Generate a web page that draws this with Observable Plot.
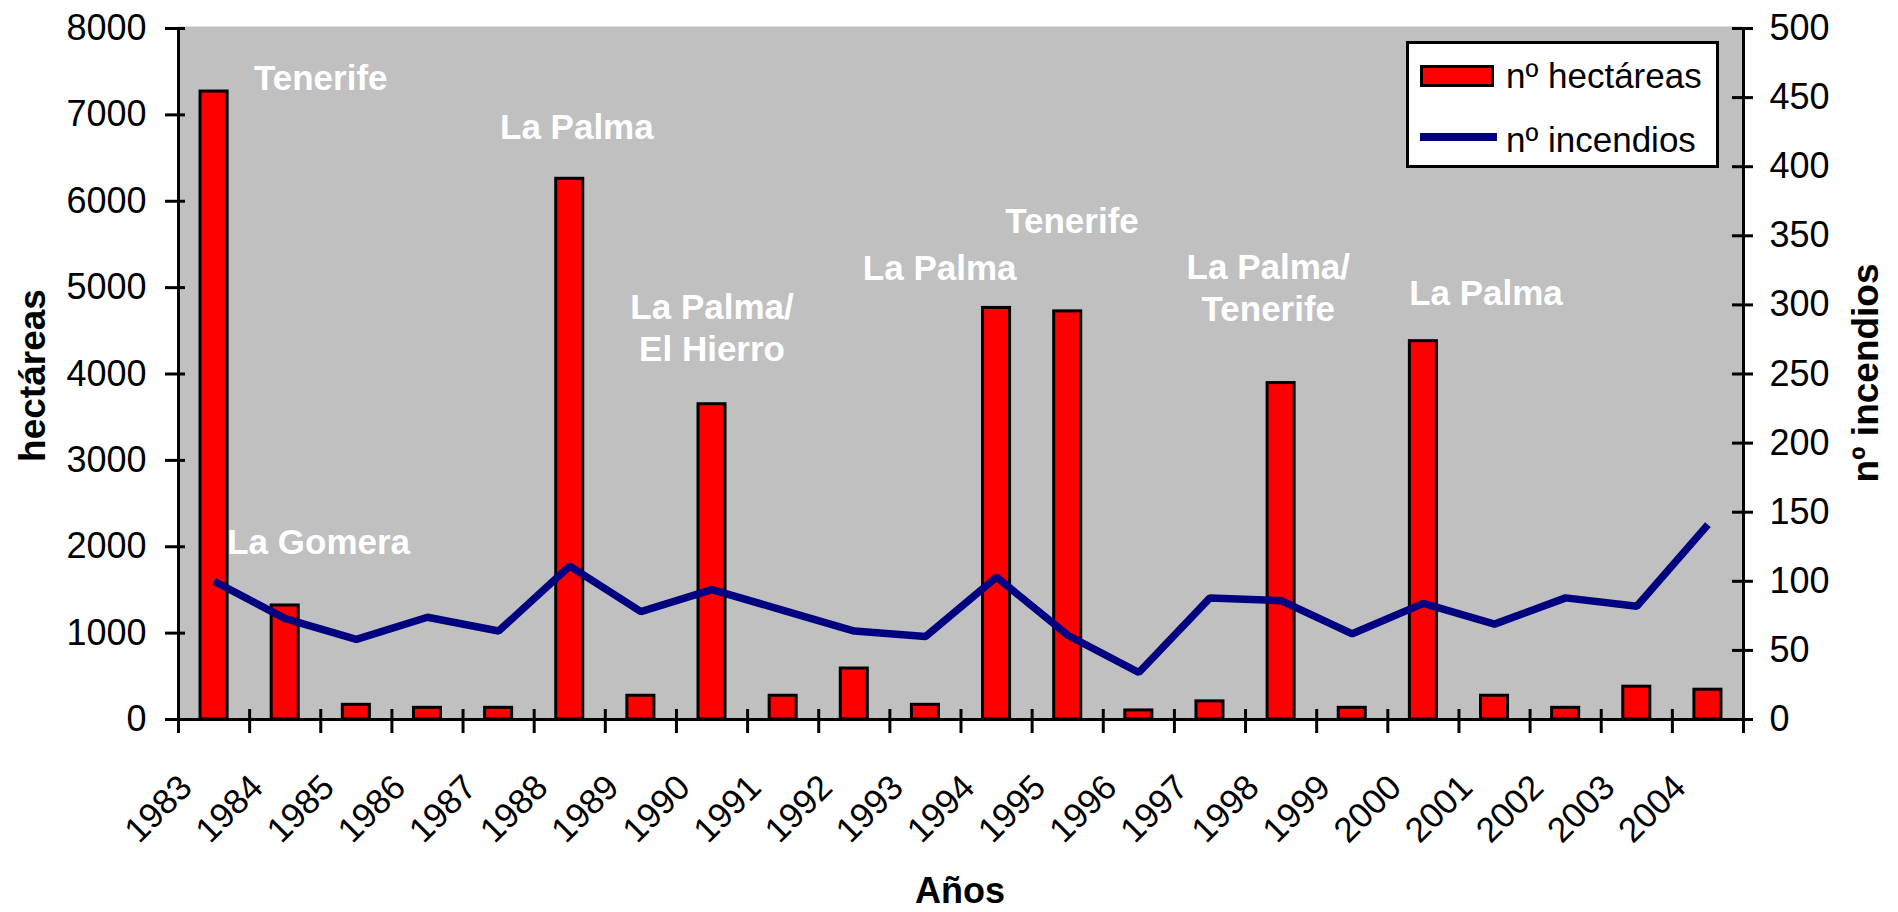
<!DOCTYPE html>
<html>
<head>
<meta charset="utf-8">
<script src="https://cdn.jsdelivr.net/npm/d3@7"></script>
<script src="https://cdn.jsdelivr.net/npm/@observablehq/plot@0.6"></script>
<style>
  body { margin: 0; background: #fff; }
  #wrap { position: relative; width: 1898px; height: 912px; font-family: Arial, "Liberation Sans", sans-serif; }
  #legend { position: absolute; left: 1406px; top: 41px; width: 307px; height: 121px; border: 3px solid #000; background: #fff; }
  #legend .sw { position: absolute; box-sizing: border-box; }
  #legend .tx { position: absolute; font-size: 35px; line-height: 35px; white-space: nowrap; color: #000; }
</style>
</head>
<body>
<div id="wrap">
  <div id="chart"></div>
  <div id="legend"></div>
</div>
<script>
// ---- data ----
const years = [1983,1984,1985,1986,1987,1988,1989,1990,1991,1992,1993,1994,1995,1996,1997,1998,1999,2000,2001,2002,2003,2004];
const hectareas = [7270,1320,170,135,135,6260,275,3650,275,590,170,4765,4725,105,210,3895,135,4380,275,135,380,345];
const incendios = [100,73,58,74,64,111,78,94,79,64,60,103,61,34,88,86,62,84,69,88,82,141];
const seriesNames = ["nº hectáreas", "nº incendios"];
const seriesColors = ["#ff0000", "#000080"];
const leftTicks = [0,1000,2000,3000,4000,5000,6000,7000,8000];
const rightTicks = [0,50,100,150,200,250,300,350,400,450,500];
// annotation labels (text, year position, hectáreas position)
const noteTexts = ["Tenerife", "La Gomera", "La Palma", "La Palma/\nEl Hierro", "La Palma", "Tenerife", "La Palma/\nTenerife", "La Palma"];
const noteYears = [1984.5, 1984.47, 1988.1, 1990.0, 1993.2, 1995.06, 1997.82, 2000.88];
const noteHa = [7448, 2077, 6881, 4548, 5243, 5793, 5011, 4959];

// ---- tables built from arrays ----
const ratio = 8000 / 500; // right axis max maps to left axis max
const data = years.map((y, i) => ({year: y, ha: hectareas[i], inc: incendios[i]}));
const notes = noteTexts.map((t, i) => ({text: t, year: noteYears[i], ha: noteHa[i]}));
const boundaries = years.map(y => y - 0.5).concat([years[years.length - 1] + 0.5]);
const font = "Arial, 'Liberation Sans', sans-serif";

const chart = Plot.plot({
  width: 1898,
  height: 912,
  marginLeft: 178,
  marginRight: 155,
  marginTop: 28,
  marginBottom: 193,
  style: {fontFamily: font, background: "white", color: "black", overflow: "visible"},
  x: {domain: [boundaries[0], boundaries[boundaries.length - 1]]},
  y: {domain: [0, 8000]},
  marks: [
    Plot.frame({fill: "#c0c0c0", stroke: "none", insetTop: -2}),
    Plot.rectY(data, {x1: d => d.year - 0.19, x2: d => d.year + 0.19, y1: 0, y2: "ha", fill: seriesColors[0], stroke: "black", strokeWidth: 3}),
    Plot.line(data, {x: "year", y: d => d.inc * ratio, stroke: seriesColors[1], strokeWidth: 7.5, strokeLinejoin: "miter", strokeLinecap: "butt"}),
    Plot.text(notes, {x: "year", y: "ha", text: "text", fill: "white", fontWeight: "bold", fontSize: 35, lineHeight: 1.2, textAnchor: "middle", lineAnchor: "middle"}),
    Plot.ruleX([boundaries[0], boundaries[boundaries.length - 1]], {stroke: "black", strokeWidth: 3}),
    Plot.ruleY([0], {stroke: "black", strokeWidth: 3}),
    // left axis
    Plot.axisY({anchor: "left", ticks: leftTicks, tickFormat: d => String(d), tickSize: 20, dx: 7, tickPadding: 19, fontSize: 36, strokeWidth: 3, label: null}),
    // right axis (incendios mapped through the shared y scale)
    Plot.axisY({anchor: "right", ticks: rightTicks.map(v => v * ratio), tickFormat: d => String(Math.round(d / ratio)), tickSize: 21, dx: -12, tickPadding: 17, fontSize: 36, strokeWidth: 3, label: null}),
    // x tick marks at category boundaries
    Plot.axisX({ticks: boundaries, tickFormat: () => "", tickSize: 24, dy: -10, strokeWidth: 3, label: null}),
    // x tick labels at category centers
    Plot.axisX({ticks: years, tickFormat: d => String(d), tickSize: 0, tickPadding: 54, dx: -28, dy: 8, tickRotate: -45, fontSize: 35, label: null}),
    // axis titles
    Plot.text(["hectáreas"], {frameAnchor: "left", dx: -145, dy: 1.5, rotate: -90, fontSize: 37, fontWeight: "bold", textAnchor: "middle", lineAnchor: "middle"}),
    Plot.text(["nº incendios"], {frameAnchor: "right", dx: 123, dy: -1, rotate: -90, fontSize: 37, fontWeight: "bold", textAnchor: "middle", lineAnchor: "middle"}),
    Plot.text(["Años"], {frameAnchor: "bottom", dx: -1, dy: 172, fontSize: 36, fontWeight: "bold", textAnchor: "middle", lineAnchor: "middle"})
  ]
});
document.getElementById("chart").appendChild(chart);

// legend (inside the plot area, top-right)
const lg = d3.select("#legend");
lg.append("div").attr("class", "sw")
  .style("left", "11px").style("top", "21px").style("width", "74px").style("height", "22px")
  .style("background", seriesColors[0]).style("border", "3px solid #000");
lg.append("div").attr("class", "tx").style("left", "97px").style("top", "14px").text(seriesNames[0]);
lg.append("div").attr("class", "sw")
  .style("left", "11px").style("top", "89px").style("width", "77px").style("height", "8px")
  .style("background", seriesColors[1]);
lg.append("div").attr("class", "tx").style("left", "97px").style("top", "78px").text(seriesNames[1]);
</script>
</body>
</html>
